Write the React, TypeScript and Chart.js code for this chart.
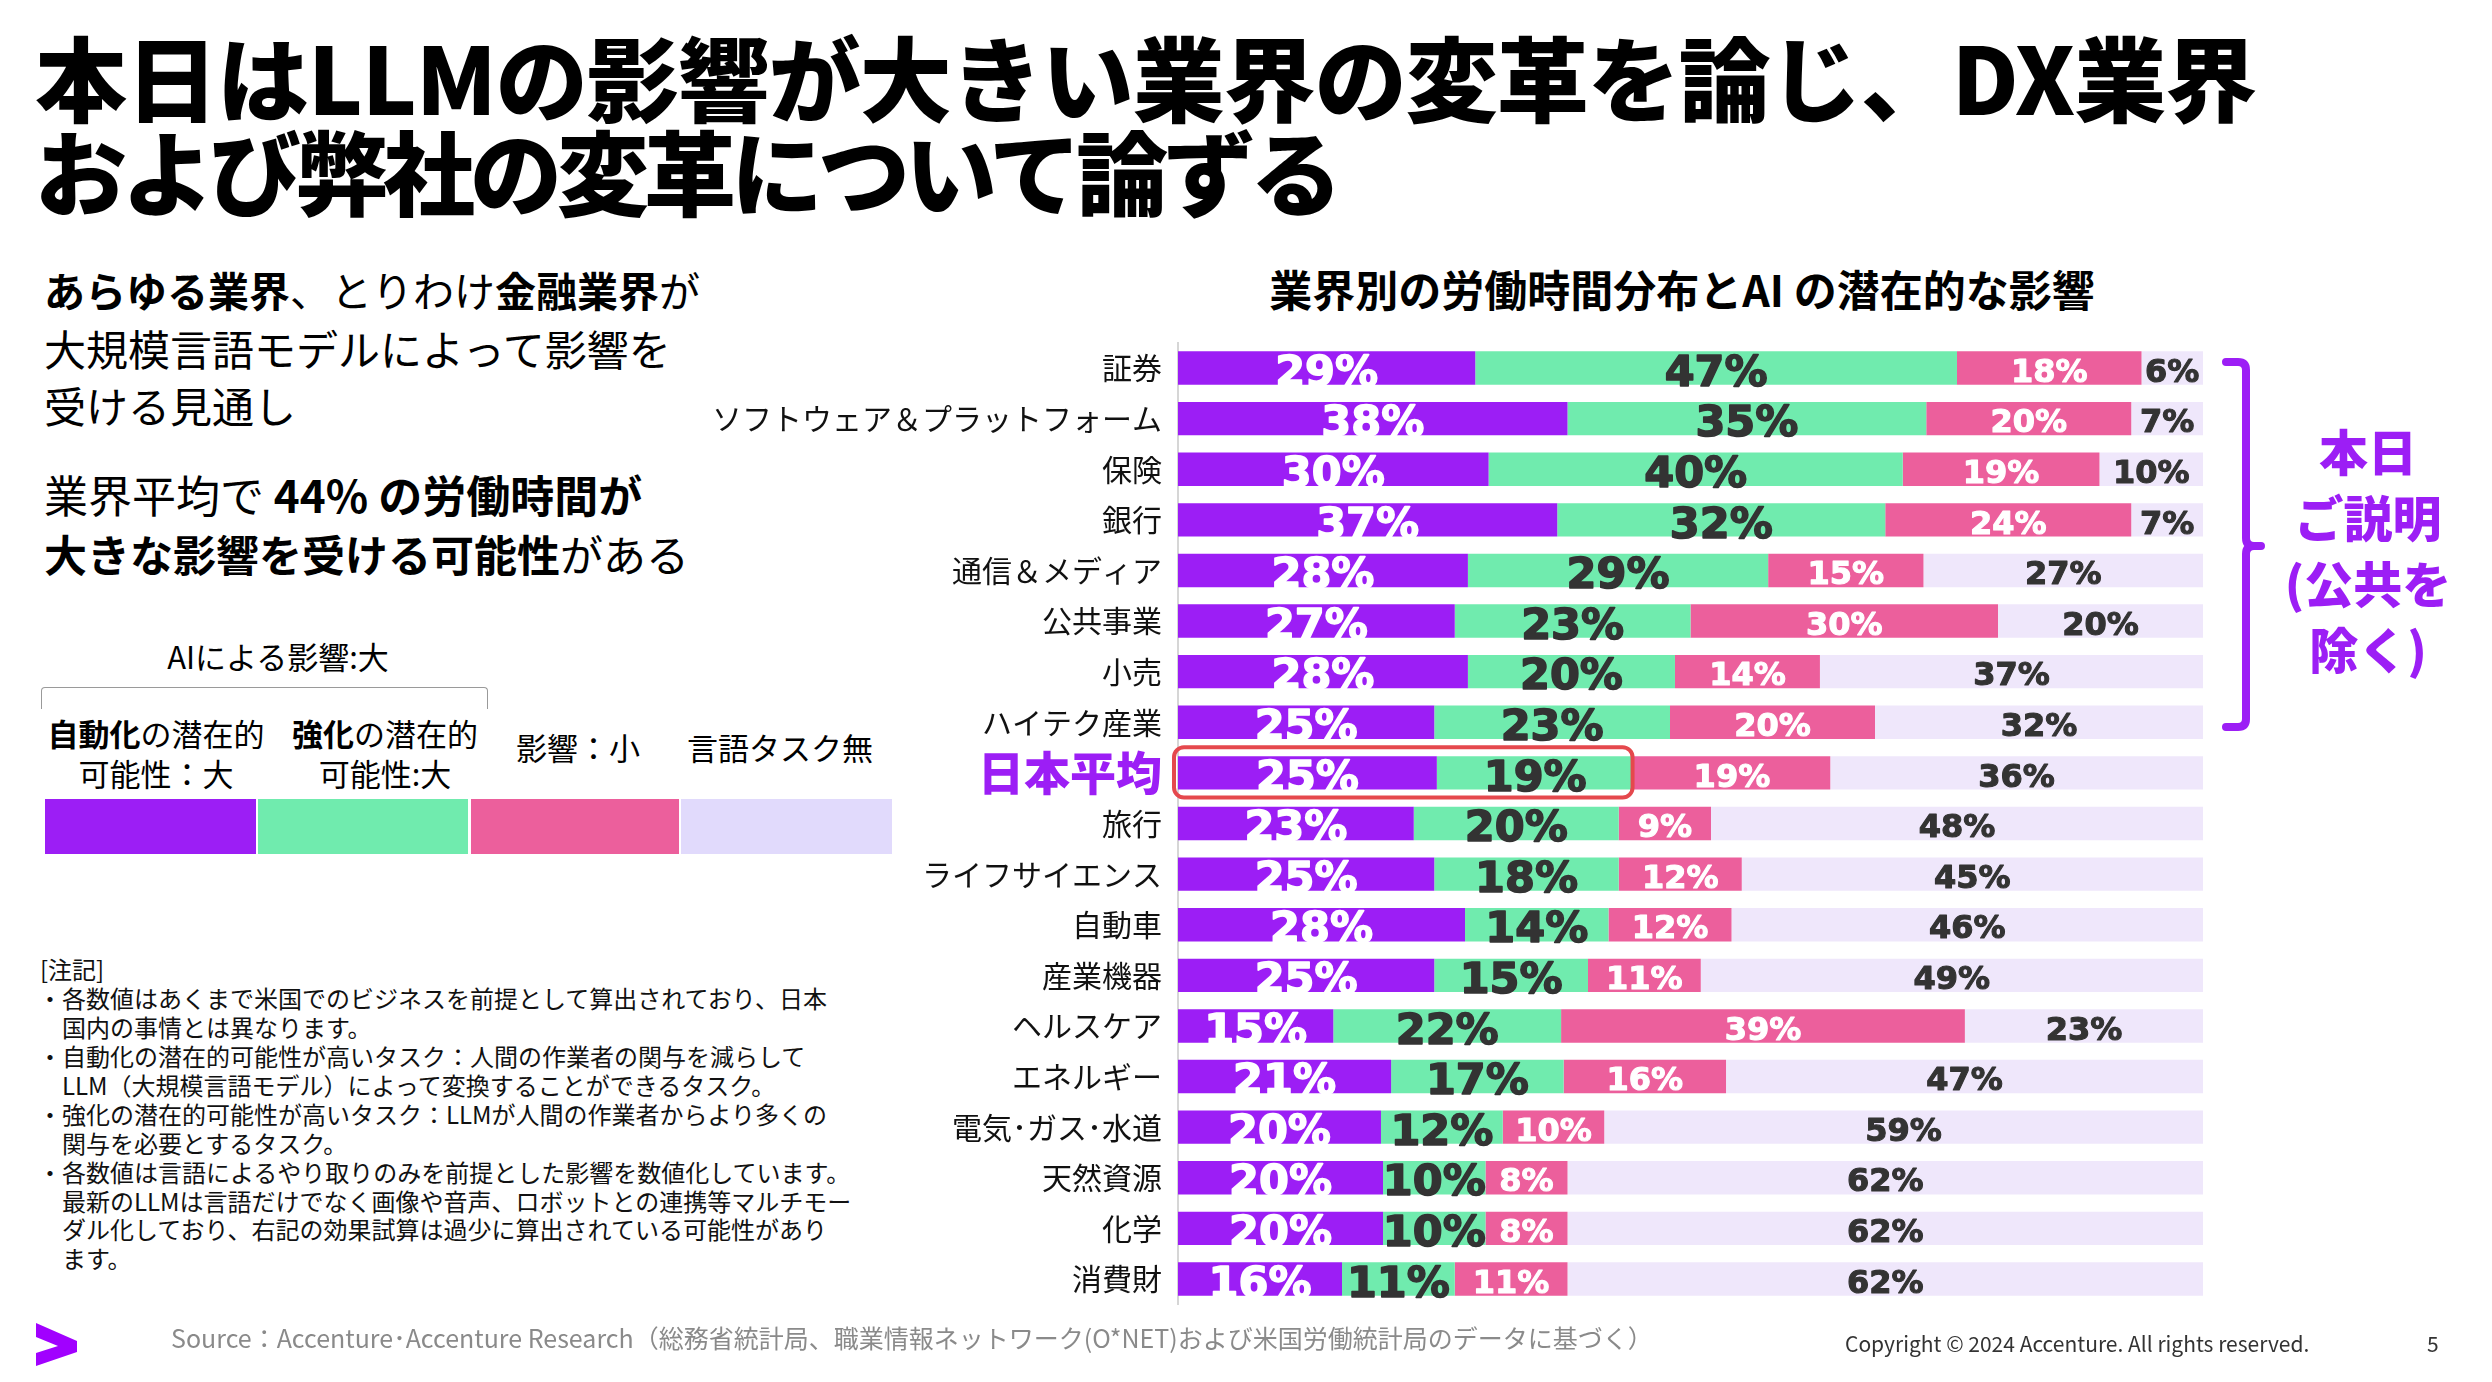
import React, { useEffect, useRef } from "react";
import { Chart, registerables } from "chart.js";

Chart.register(...registerables);

// ---------- data ----------
const categories = [
  "証券",
  "ソフトウェア＆プラットフォーム",
  "保険",
  "銀行",
  "通信＆メディア",
  "公共事業",
  "小売",
  "ハイテク産業",
  "日本平均",
  "旅行",
  "ライフサイエンス",
  "自動車",
  "産業機器",
  "ヘルスケア",
  "エネルギー",
  "電気･ガス･水道",
  "天然資源",
  "化学",
  "消費財",
];
const automation = [29, 38, 30, 37, 28, 27, 28, 25, 25, 23, 25, 28, 25, 15, 21, 20, 20, 20, 16];
const augmentation = [47, 35, 40, 32, 29, 23, 20, 23, 19, 20, 18, 14, 15, 22, 17, 12, 10, 10, 11];
const lowImpact = [18, 20, 19, 24, 15, 30, 14, 20, 19, 9, 12, 12, 11, 39, 16, 10, 8, 8, 11];
const nonLanguage = [6, 7, 10, 7, 27, 20, 37, 32, 36, 48, 45, 46, 49, 23, 47, 59, 62, 62, 62];
const seriesNames = ["自動化の潜在的可能性：大", "強化の潜在的可能性:大", "影響：小", "言語タスク無"];
const highlightIndex = 8;

// ---------- styles ----------
const PURPLE = "#9C1EF5";
const GREEN = "#70EBAE";
const PINK = "#EC5F9C";
const LAVENDER = "#EFE7FB";
const LAVENDER_LEGEND = "#E1DAFC";
const FONT = '"Noto Sans CJK JP", "Noto Sans", sans-serif';
const NUM_FONT = '"DejaVu Sans", "Liberation Sans", sans-serif';

const seriesColors = [PURPLE, GREEN, PINK, LAVENDER];
const labelColors = ["#ffffff", "#333333", "#ffffff", "#333333"];
const labelSizes = [43, 43, 32, 32];

const segLabelPlugin = {
  id: "segLabels",
  afterDatasetsDraw(chart: any) {
    const ctx = chart.ctx;
    const sets = [automation, augmentation, lowImpact, nonLanguage];
    ctx.save();
    chart.data.datasets.forEach((_: any, di: number) => {
      const meta = chart.getDatasetMeta(di);
      meta.data.forEach((el: any, i: number) => {
        const { x, y, base } = el.getProps(["x", "y", "base"], true);
        const cx = (x + base) / 2;
        const size = labelSizes[di];
        const ty = y + size * 0.365 + 2;
        const txt = `${sets[di][i]}%`;
        ctx.font = `bold ${size}px ${NUM_FONT}`;
        ctx.fillStyle = labelColors[di];
        ctx.strokeStyle = labelColors[di];
        ctx.lineWidth = size > 40 ? 1.6 : 1.1;
        ctx.lineJoin = "round";
        ctx.textAlign = "center";
        ctx.textBaseline = "alphabetic";
        ctx.strokeText(txt, cx, ty);
        ctx.fillText(txt, cx, ty);
      });
    });
    ctx.restore();
  },
};

const highlightPlugin = {
  id: "highlightRow",
  afterDatasetsDraw(chart: any) {
    const ctx = chart.ctx;
    const a = chart.getDatasetMeta(0).data[highlightIndex];
    const b = chart.getDatasetMeta(1).data[highlightIndex];
    if (!a || !b) return;
    const pa = a.getProps(["y", "height"], true);
    const pb = b.getProps(["x"], true);
    const left = chart.scales.x.getPixelForValue(0) - 4;
    const right = pb.x - 1;
    const top = pa.y - pa.height / 2 - 9;
    const bottom = pa.y + pa.height / 2 + 8;
    ctx.save();
    ctx.strokeStyle = "#E5484D";
    ctx.lineWidth = 4;
    ctx.beginPath();
    ctx.roundRect(left, top, right - left, bottom - top, 10);
    ctx.stroke();
    ctx.restore();
  },
};

function ImpactChart() {
  const ref = useRef<HTMLCanvasElement>(null);
  useEffect(() => {
    if (!ref.current) return;
    const totals = categories.map(
      (_, i) => automation[i] + augmentation[i] + lowImpact[i] + nonLanguage[i]
    );
    const share = (arr: number[]) => arr.map((v, i) => (v / totals[i]) * 100);
    const raw = [automation, augmentation, lowImpact, nonLanguage];
    const chart = new Chart(ref.current, {
      type: "bar",
      data: {
        labels: categories,
        datasets: raw.map((arr, di) => ({
          label: seriesNames[di],
          data: share(arr),
          backgroundColor: seriesColors[di],
          borderWidth: 0,
          barPercentage: 0.66,
          categoryPercentage: 1,
        })),
      },
      options: {
        indexAxis: "y",
        responsive: false,
        animation: false,
        devicePixelRatio: 1,
        layout: { padding: { left: 0, right: 7, top: 12.7, bottom: 15.7 } },
        plugins: {
          legend: { display: false },
          title: { display: false },
          tooltip: { enabled: false },
        },
        scales: {
          x: { stacked: true, min: 0, max: 100, display: false },
          y: {
            stacked: true,
            grid: { display: false, drawTicks: false },
            border: { display: true, color: "#d6d6d6", width: 2 },
            ticks: {
              autoSkip: false,
              padding: 16,
              color: (c: any) => (c.index === highlightIndex ? PURPLE : "#111111"),
              font: (c: any) =>
                c.index === highlightIndex
                  ? { family: FONT, size: 46, weight: "900" }
                  : { family: FONT, size: 30, weight: "400" },
            },
            afterFit: (s: any) => {
              s.width = 478;
              s.paddingTop = 0;
              s.paddingBottom = 0;
            },
          },
        },
      } as any,
      plugins: [segLabelPlugin, highlightPlugin],
    });
    return () => chart.destroy();
  }, []);
  return (
    <canvas
      ref={ref}
      width={1510}
      height={990}
      style={{ position: "absolute", left: 700, top: 330, width: 1510, height: 990 }}
    />
  );
}

type TProps = {
  x: number;
  y: number;
  size: number;
  w?: number;
  align?: "left" | "center" | "right";
  weight?: number;
  color?: string;
  ls?: number;
  children?: React.ReactNode;
};

function T({ x, y, size, w = 0, align = "left", weight = 400, color = "#000", ls = 0, children }: TProps) {
  const lh = Math.round(size * 1.3);
  const style: React.CSSProperties = {
    position: "absolute",
    top: y - lh / 2 - size * 0.05,
    lineHeight: lh + "px",
    height: lh,
    fontSize: size,
    fontWeight: weight,
    color,
    whiteSpace: "pre",
    fontFamily: FONT,
    letterSpacing: ls,
  };
  if (align === "center") {
    style.left = x - w / 2;
    style.width = w;
    style.textAlign = "center";
  } else if (align === "right") {
    style.left = x - w;
    style.width = w;
    style.textAlign = "right";
  } else {
    style.left = x;
  }
  return <div style={style}>{children}</div>;
}

const B = ({ children }: { children: React.ReactNode }) => <span style={{ fontWeight: 700 }}>{children}</span>;

const noteLines = [
  "[注記]",
  "・各数値はあくまで米国でのビジネスを前提として算出されており、日本",
  "　国内の事情とは異なります。",
  "・自動化の潜在的可能性が高いタスク：人間の作業者の関与を減らして",
  "　LLM（大規模言語モデル）によって変換することができるタスク。",
  "・強化の潜在的可能性が高いタスク：LLMが人間の作業者からより多くの",
  "　関与を必要とするタスク。",
  "・各数値は言語によるやり取りのみを前提とした影響を数値化しています。",
  "　最新のLLMは言語だけでなく画像や音声、ロボットとの連携等マルチモー",
  "　ダル化しており、右記の効果試算は過少に算出されている可能性があり",
  "　ます。",
];

export default function App() {
  return (
    <div
      style={{
        position: "absolute",
        left: 0,
        top: 0,
        width: 2492,
        height: 1382,
        background: "#ffffff",
        overflow: "hidden",
        fontFamily: FONT,
      }}
    >
      {/* Title */}
      <T x={35} y={80} size={92} weight={900} ls={-1}>
        本日はLLMの影響が大きい業界の変革を論じ、DX業界
      </T>
      <T x={35} y={174} size={92} weight={900} ls={-5}>
        および弊社の変革について論ずる
      </T>

      {/* Left paragraphs */}
      <T x={44} y={292} size={41}>
        <B>あらゆる業界</B>、とりわけ<B>金融業界</B>が
      </T>
      <T x={44} y={350} size={42}>
        大規模言語モデルによって影響を
      </T>
      <T x={44} y={407} size={42}>
        受ける見通し
      </T>
      <T x={44} y={497} size={44}>
        業界平均で <B>44% の労働時間が</B>
      </T>
      <T x={44} y={555} size={43}>
        <B>大きな影響を受ける可能性</B>がある
      </T>

      {/* Legend */}
      <T x={278} y={658} size={31} w={300} align="center">
        AIによる影響:大
      </T>
      <div
        style={{
          position: "absolute",
          left: 41,
          top: 687,
          width: 447,
          height: 22,
          borderTop: "1.5px solid #9a9a9a",
          borderLeft: "1.5px solid #9a9a9a",
          borderRight: "1.5px solid #9a9a9a",
          borderRadius: "4px 4px 0 0",
          boxSizing: "border-box",
        }}
      />
      <T x={156} y={735} size={31} w={240} align="center">
        <B>自動化</B>の潜在的
      </T>
      <T x={156} y={775} size={31} w={240} align="center">
        可能性：大
      </T>
      <T x={385} y={735} size={31} w={220} align="center">
        <B>強化</B>の潜在的
      </T>
      <T x={385} y={775} size={31} w={220} align="center">
        可能性:大
      </T>
      <T x={578} y={749} size={31} w={200} align="center">
        影響：小
      </T>
      <T x={780} y={749} size={31} w={240} align="center">
        言語タスク無
      </T>
      {[
        [45, 211, PURPLE],
        [258, 210, GREEN],
        [471, 208, PINK],
        [681, 211, LAVENDER_LEGEND],
      ].map(([l, w, c], i) => (
        <div
          key={i}
          style={{
            position: "absolute",
            left: l as number,
            top: 799,
            width: w as number,
            height: 55,
            background: c as string,
          }}
        />
      ))}

      {/* Notes */}
      {noteLines.map((line, i) => (
        <T key={i} x={i === 0 ? 40 : 38} y={970 + i * 28.9} size={24} color="#111">
          {line}
        </T>
      ))}

      {/* Chart title */}
      <T x={1682} y={290} size={43} w={1000} align="center" weight={700}>
        業界別の労働時間分布とAI の潜在的な影響
      </T>

      <ImpactChart />

      {/* Right bracket + logo */}
      <svg
        width={2492}
        height={1382}
        style={{ position: "absolute", left: 0, top: 0, pointerEvents: "none" }}
      >
        <path
          d="M2226,362 L2238,362 Q2246,362 2246,370 L2246,538 Q2246,546 2254,546 L2261,546 M2254,546 Q2246,546 2246,554 L2246,719 Q2246,727 2238,727 L2226,727"
          fill="none"
          stroke={PURPLE}
          strokeWidth={8}
          strokeLinecap="round"
        />
        <polygon
          points="36,1323 77,1341 77,1352 36,1366 36,1353 58,1346 36,1337"
          fill="#A100FF"
        />
      </svg>
      <T x={2368} y={452} size={49} w={220} align="center" weight={900} color={PURPLE}>
        本日
      </T>
      <T x={2368} y={518} size={49} w={220} align="center" weight={900} color={PURPLE}>
        ご説明
      </T>
      <T x={2368} y={584} size={49} w={240} align="center" weight={900} color={PURPLE}>
        (公共を
      </T>
      <T x={2368} y={650} size={49} w={220} align="center" weight={900} color={PURPLE}>
        除く)
      </T>

      {/* Footer */}
      <T x={171} y={1339} size={25} color="#8a8a8a">
        Source：Accenture･Accenture Research（総務省統計局、職業情報ネットワーク(O*NET)および米国労働統計局のデータに基づく）
      </T>
      <T x={1845} y={1345} size={21} color="#333">
        Copyright © 2024 Accenture. All rights reserved.
      </T>
      <T x={2427} y={1345} size={21} color="#333">
        5
      </T>
    </div>
  );
}
